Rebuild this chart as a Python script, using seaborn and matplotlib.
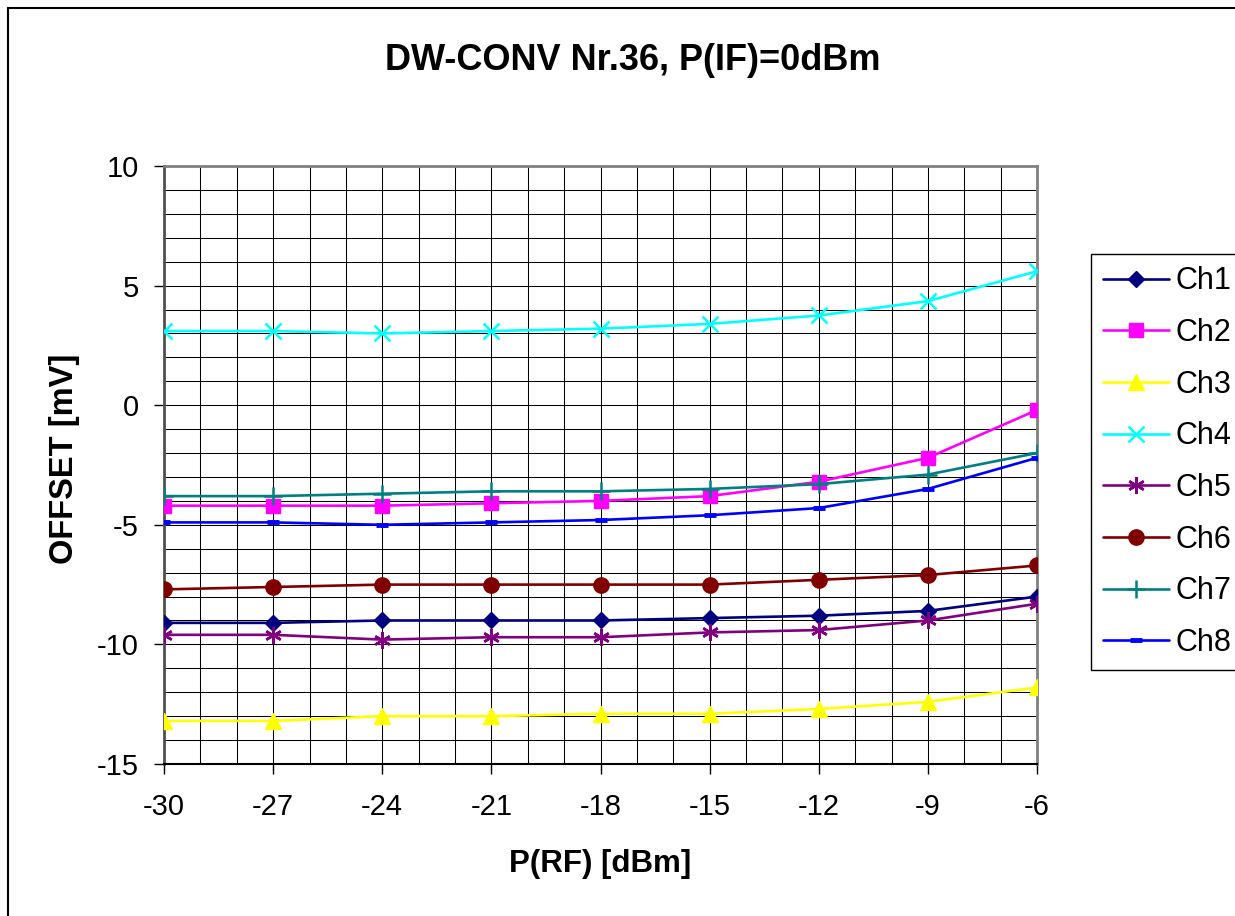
import seaborn as sns
import matplotlib.pyplot as plt
from matplotlib.patches import Rectangle
from matplotlib.ticker import MultipleLocator

# P(RF) in dBm
p_rf = [-30, -27, -24, -21, -18, -15, -12, -9, -6]

# offset in mV per channel
ch1 = [-9.1, -9.1, -9.0, -9.0, -9.0, -8.9, -8.8, -8.6, -8.0]
ch2 = [-4.2, -4.2, -4.2, -4.1, -4.0, -3.8, -3.2, -2.2, -0.2]
ch3 = [-13.2, -13.2, -13.0, -13.0, -12.9, -12.9, -12.7, -12.4, -11.8]
ch4 = [3.1, 3.1, 3.0, 3.1, 3.2, 3.4, 3.75, 4.35, 5.6]
ch5 = [-9.6, -9.6, -9.8, -9.7, -9.7, -9.5, -9.4, -9.0, -8.3]
ch6 = [-7.7, -7.6, -7.5, -7.5, -7.5, -7.5, -7.3, -7.1, -6.7]
ch7 = [-3.8, -3.8, -3.7, -3.6, -3.6, -3.5, -3.3, -2.9, -2.0]
ch8 = [-4.9, -4.9, -5.0, -4.9, -4.8, -4.6, -4.3, -3.5, -2.2]

names = ["Ch1", "Ch2", "Ch3", "Ch4", "Ch5", "Ch6", "Ch7", "Ch8"]
series = [ch1, ch2, ch3, ch4, ch5, ch6, ch7, ch8]

# Excel-ish look for each channel: color, marker, size, edge width
styles = {
    "Ch1": ("#000080", "D", 7.8, 1.0),
    "Ch2": ("#FF00FF", "s", 9.5, 1.0),
    "Ch3": ("#FFFF00", "^", 12, 1.0),
    "Ch4": ("#00FFFF", "x", 11, 1.8),
    "Ch5": ("#800080", (6, 2, 0), 12, 1.8),
    "Ch6": ("#800000", "o", 11, 1.0),
    "Ch7": ("#008080", "+", 13, 1.8),
    "Ch8": ("#0000FF", "_", 8, 3.5),
}

sns.set_theme(style="white")
plt.rcParams['font.family'] = ['Liberation Sans', 'DejaVu Sans']
plt.rcParams['axes.unicode_minus'] = False
for k in ['text.color', 'axes.labelcolor', 'xtick.color', 'ytick.color']:
    plt.rcParams[k] = 'black'

W, H = 1235, 916
fig = plt.figure(figsize=(W / 100, H / 100), dpi=100)
ax = fig.add_axes([164 / W, 1 - 764 / H, (1037 - 164) / W, (764 - 166) / H])

for name, vals in zip(names, series):
    c, m, ms, mew = styles[name]
    sns.lineplot(x=p_rf, y=vals, ax=ax, color=c, marker=m, markersize=ms,
                 markeredgewidth=mew, markeredgecolor=c, markerfacecolor=c,
                 linewidth=1.9, label=name, legend=False, zorder=3)

ax.set_xlim(-30, -6)
ax.set_ylim(-15, 10)
ax.xaxis.set_major_locator(MultipleLocator(3))
ax.xaxis.set_minor_locator(MultipleLocator(1))
ax.yaxis.set_major_locator(MultipleLocator(5))
ax.yaxis.set_minor_locator(MultipleLocator(1))
ax.grid(True, which="both", color="black", linewidth=0.75)
ax.set_axisbelow(True)

ax.tick_params(axis="both", which="major", labelsize=21, length=7,
               width=1, color="black", direction="out")
ax.tick_params(axis="x", which="major", bottom=True, pad=14)
ax.tick_params(axis="y", which="major", left=True, pad=11)
ax.tick_params(which="minor", length=0)

for side in ["top", "right"]:
    ax.spines[side].set_color("#808080")
    ax.spines[side].set_linewidth(2)
ax.spines["left"].set_color("#505050")
ax.spines["left"].set_linewidth(2)
ax.spines["bottom"].set_color("black")
ax.spines["bottom"].set_linewidth(1.5)

ax.set_xlabel("P(RF) [dBm]", fontsize=22.5, fontweight="bold")
ax.set_ylabel("OFFSET [mV]", fontsize=23.5, fontweight="bold")
ax.xaxis.set_label_coords(0.5, (764 - 849) / 598)
ax.yaxis.set_label_coords((80 - 164) / 873, 0.51)

fig.suptitle("DW-CONV Nr.36, P(IF)=0dBm", x=633 / W, y=1 - 61 / H,
             va="center", fontsize=26, fontweight="bold")

handles, labels = ax.get_legend_handles_labels()
leg = fig.legend(handles, labels, loc="upper left",
                 bbox_to_anchor=(1091 / W, 1 - 254 / H), fontsize=22,
                 frameon=True, fancybox=False, framealpha=1,
                 edgecolor="black", handlelength=2.15, handletextpad=0.22,
                 labelspacing=0.71, borderpad=0.4, borderaxespad=0)
leg.get_frame().set_linewidth(1)

# outer chart frame, cut off on the right and bottom like the original
fig.patches.append(Rectangle((8 / W, -0.1), 1.2, 1.1 - 8 / H,
                             transform=fig.transFigure, fill=False,
                             edgecolor="black", linewidth=1.5))

fig.savefig("out.png", dpi=100)
